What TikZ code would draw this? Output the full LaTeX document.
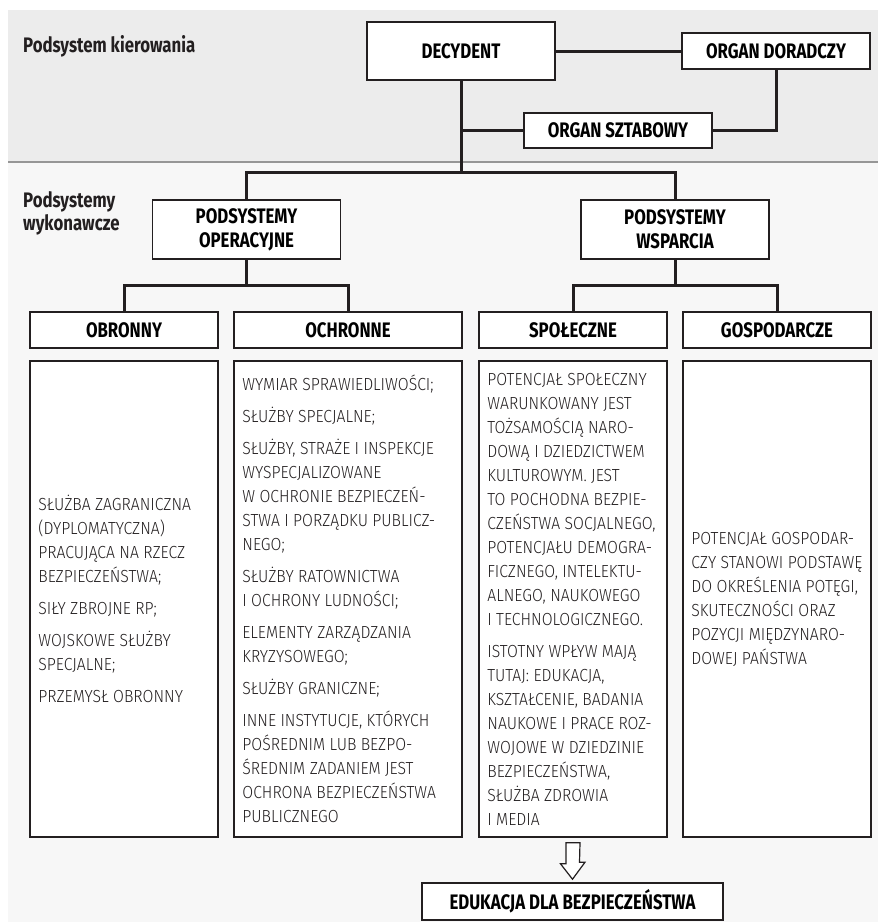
\documentclass[tikz,border=0pt]{standalone}
\usepackage{fontspec}
\setmainfont{Fira Sans}[FakeStretch=0.9, UprightFont=* Light]
\newfontfamily\headfont{Fira Sans}[FakeStretch=0.8]
\definecolor{topgray}{RGB}{236, 236, 236}
\definecolor{lowgray}{RGB}{247, 247, 247}
\definecolor{rulegray}{RGB}{150, 150, 150}
\definecolor{inkblack}{RGB}{35, 31, 32}
\usepackage{tikz}
\usetikzlibrary{positioning, calc}

\begin{document}
\begin{tikzpicture}[x=1pt, y=-1pt,
  unit/.style={draw=inkblack, line width=1.6pt, fill=white, minimum width=188pt, inner sep=0pt, align=center, font=\headfont\bfseries\fontsize{21}{24}\selectfont},
  panel/.style={draw=inkblack, line width=1.6pt, fill=white, minimum width=188pt, minimum height=476pt, inner sep=0pt},
  bodytext/.style={inner sep=0pt, align=left, font=\fontsize{17.5}{24}\selectfont, text=inkblack},
  sidelabel/.style={inner sep=0pt, align=left, font=\headfont\bfseries\fontsize{21}{23}\selectfont, text=inkblack},
  link/.style={draw=inkblack, line width=3pt}]

  \useasboundingbox (0,0) rectangle (878,922);

  % Background bands
  \fill[lowgray] (8,10) rectangle (878,922);
  \fill[topgray] (8,10) rectangle (878,162);
  \draw[rulegray, line width=1.5pt] (8,162) -- (878,162);

  % Side labels
  \node[sidelabel, anchor=base west] (kier) at (23,52) {Podsystem kierowania};
  \node[sidelabel, anchor=north west] (wyk) at (23,191) {Podsystemy\\wykonawcze};

  % Management level
  \node[unit, minimum height=58pt] (dec) at (461,51) {DECYDENT};
  \node[unit, minimum height=36pt] (dor) at (776,51) {ORGAN DORADCZY};
  \node[unit, minimum height=35pt] (szt) at (618,130.5) {ORGAN SZTABOWY};

  % Executive subsystems
  \node[unit, minimum height=59pt] (oper) at (246.5,229.5) {PODSYSTEMY\\OPERACYJNE};
  \node[unit, minimum height=59pt] (wsp) at (675,229.5) {PODSYSTEMY\\WSPARCIA};

  \node[unit, minimum height=36pt] (obr) at (124,330) {OBRONNY};
  \node[unit, minimum height=36pt, minimum width=228pt] (ochr) at (348,330) {OCHRONNE};
  \node[unit, minimum height=36pt] (spol) at (573,330) {SPOŁECZNE};
  \node[unit, minimum height=36pt] (gosp) at (777,330) {GOSPODARCZE};

  % Description panels
  \node[panel] (obrbox) at (124,599) {};
  \node[panel, minimum width=228pt] (ochrbox) at (348,599) {};
  \node[panel] (spolbox) at (573,599) {};
  \node[panel] (gospbox) at (777,599) {};

  \node[bodytext, right=9pt of obrbox.west] (obrtxt) {SŁUŻBA ZAGRANICZNA\\(DYPLOMATYCZNA)\\PRACUJĄCA NA RZECZ\\BEZPIECZEŃSTWA;\\[8pt]SIŁY ZBROJNE RP;\\[8pt]WOJSKOWE SŁUŻBY\\SPECJALNE;\\[8pt]PRZEMYSŁ OBRONNY};
  \node[bodytext, right=9pt of ochrbox.west] (ochrtxt) {WYMIAR SPRAWIEDLIWOŚCI;\\[8pt]SŁUŻBY SPECJALNE;\\[8pt]SŁUŻBY, STRAŻE I INSPEKCJE\\WYSPECJALIZOWANE\\W OCHRONIE BEZPIECZEŃ-\\STWA I PORZĄDKU PUBLICZ-\\NEGO;\\[8pt]SŁUŻBY RATOWNICTWA\\I OCHRONY LUDNOŚCI;\\[8pt]ELEMENTY ZARZĄDZANIA\\KRYZYSOWEGO;\\[8pt]SŁUŻBY GRANICZNE;\\[8pt]INNE INSTYTUCJE, KTÓRYCH\\POŚREDNIM LUB BEZPO-\\ŚREDNIM ZADANIEM JEST\\OCHRONA BEZPIECZEŃSTWA\\PUBLICZNEGO};
  \node[bodytext, right=9pt of spolbox.west] (spoltxt) {POTENCJAŁ SPOŁECZNY\\WARUNKOWANY JEST\\TOŻSAMOŚCIĄ NARO-\\DOWĄ I DZIEDZICTWEM\\KULTUROWYM. JEST\\TO POCHODNA BEZPIE-\\CZEŃSTWA SOCJALNEGO,\\POTENCJAŁU DEMOGRA-\\FICZNEGO, INTELEKTU-\\ALNEGO, NAUKOWEGO\\I TECHNOLOGICZNEGO.\\[8pt]ISTOTNY WPŁYW MAJĄ\\TUTAJ: EDUKACJA,\\KSZTAŁCENIE, BADANIA\\NAUKOWE I PRACE ROZ-\\WOJOWE W DZIEDZINIE\\BEZPIECZEŃSTWA,\\SŁUŻBA ZDROWIA\\I MEDIA};
  \node[bodytext, right=9pt of gospbox.west] (gosptxt) {POTENCJAŁ GOSPODAR-\\CZY STANOWI PODSTAWĘ\\DO OKREŚLENIA POTĘGI,\\SKUTECZNOŚCI ORAZ\\POZYCJI MIĘDZYNARO-\\DOWEJ PAŃSTWA};

  \node[unit, minimum height=37pt, minimum width=301pt] (edu) at (572.5,901.5) {EDUKACJA DLA BEZPIECZEŃSTWA};

  % Connectors
  \coordinate (split) at (461,172);
  \draw[link] (dec) -- (dor);
  \draw[link] (dor.south) |- (szt.east);
  \draw[link] (szt.west) -- (dec.south |- szt.west);
  \draw[link] (dec.south) -- (split);
  \draw[link] (oper.north) |- (split) -| (wsp.north);
  \draw[link] (oper.south) -- ++(0,26);
  \draw[link] (obr.north) |- ($(oper.south)+(0,26)$) -| (ochr.north);
  \draw[link] (wsp.south) -- ++(0,26);
  \draw[link] (spol.north) |- ($(wsp.south)+(0,26)$) -| (gosp.north);

  % Open arrow to education
  \coordinate (tip) at ($(edu.north)+(0,-3)$);
  \draw[draw=inkblack, line width=1.2pt, fill=white] ($(spolbox.south)+(-7,5)$) -- ++(0,21) -- ++(-5.5,0) -- (tip) -- ($(tip)+(12.5,-17)$) -- ++(-5.5,0) -- ($(spolbox.south)+(7,5)$) -- cycle;
\end{tikzpicture}
\end{document}
